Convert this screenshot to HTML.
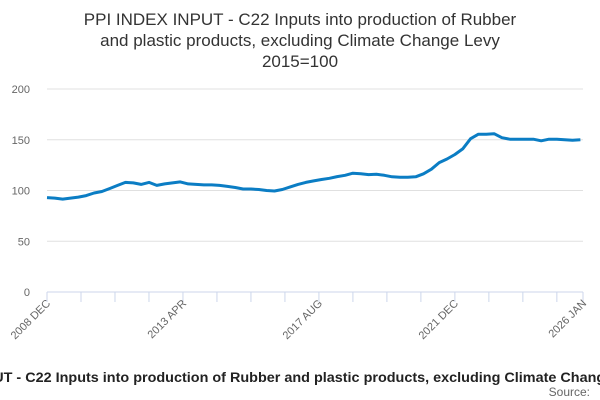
<!DOCTYPE html>
<html><head><meta charset="utf-8"><style>
html,body{margin:0;padding:0;background:#fff;width:600px;height:400px;overflow:hidden}
svg{display:block;font-family:"Liberation Sans","DejaVu Sans",sans-serif}
</style></head><body>
<svg id="chart" width="600" height="400" viewBox="0 0 600 400">
<g font-size="17" fill="#333" text-anchor="middle">
<text x="300" y="25">PPI INDEX INPUT - C22 Inputs into production of Rubber</text>
<text x="300" y="46">and plastic products, excluding Climate Change Levy</text>
<text x="300" y="67">2015=100</text>
</g>
<g id="grid"></g>
<g id="yaxis"></g>
<g id="xaxis"></g>
<path id="line" fill="none" stroke="#0b7dc4" stroke-width="3" stroke-linejoin="round"/>
<text x="-106" y="382" font-size="13.5" font-weight="bold" fill="#222" textLength="756" lengthAdjust="spacingAndGlyphs">PPI INDEX INPUT - C22 Inputs into production of Rubber and plastic products, excluding Climate Change Levy</text>
<text x="590" y="396" font-size="12" fill="#666" text-anchor="end">Source:</text>
</svg>
<script>
const yTicks = [0, 50, 100, 150, 200];
const xLabels = ["2008 DEC", "2013 APR", "2017 AUG", "2021 DEC", "2026 JAN"];
const xLabelMonths = [0, 52, 104, 156, 205];
const totalMonths = 205;
const values = [93,92.5,91.5,92.5,93.5,95,97.5,99,102,105,108,107.5,106,108,105,106.5,107.5,108.5,106.5,106,105.5,105.5,105,104,103,101.5,101.5,101,100,99.5,101,103.5,106,108,109.5,110.8,112,113.7,115,117,116.5,115.7,116,115,113.5,113,113,113.5,116.5,121,127.5,131,135.5,141,151,155.5,155.5,156,152,150.5,150.5,150.5,150.5,149,150.5,150.5,150,149.5,150];
const monthStep = 3;

const L=47,R=583,T=89,B=292;
const xs=m=>L+(R-L)*m/totalMonths;
const ys=v=>B-(B-T)*v/200;
const NS="http://www.w3.org/2000/svg";
const grid=document.getElementById('grid'),ya=document.getElementById('yaxis'),xa=document.getElementById('xaxis');
yTicks.forEach(t=>{
  if(t>0){const l=document.createElementNS(NS,'line');
  
  
  l.setAttribute('x1',L);l.setAttribute('x2',R);l.setAttribute('y1',ys(t));l.setAttribute('y2',ys(t));
  l.setAttribute('stroke','#e0e0e0');l.setAttribute('stroke-width','1');grid.appendChild(l);}
  const tx=document.createElementNS(NS,'text');
  
  
  tx.setAttribute('x',30);tx.setAttribute('y',ys(t)+4);tx.setAttribute('text-anchor','end');
  tx.setAttribute('font-size','11');tx.setAttribute('fill','#666');tx.textContent=t;ya.appendChild(tx);
});
const ax=document.createElementNS(NS,'line');


ax.setAttribute('x1',L);ax.setAttribute('x2',R);ax.setAttribute('y1',B);ax.setAttribute('y2',B);
ax.setAttribute('stroke','#ccd6eb');xa.appendChild(ax);
for(let m=0;m<=totalMonths;m+=13){
  const tk=document.createElementNS(NS,'line');
  
  
  tk.setAttribute('x1',xs(m));tk.setAttribute('x2',xs(m));tk.setAttribute('y1',B);tk.setAttribute('y2',B+10);
  tk.setAttribute('stroke','#ccd6eb');xa.appendChild(tk);
}
const tkEnd=document.createElementNS(NS,'line');


tkEnd.setAttribute('x1',xs(totalMonths));tkEnd.setAttribute('x2',xs(totalMonths));tkEnd.setAttribute('y1',B);tkEnd.setAttribute('y2',B+10);
tkEnd.setAttribute('stroke','#ccd6eb');xa.appendChild(tkEnd);
xLabels.forEach((lab,i)=>{
  const x=xs(xLabelMonths[i]);
  const tx=document.createElementNS(NS,'text');
  
  
  tx.setAttribute('x',x+4);tx.setAttribute('y',B+12);tx.setAttribute('text-anchor','end');
  tx.setAttribute('font-size','11');tx.setAttribute('fill','#666');
  tx.setAttribute('transform',`rotate(-45 ${x+4} ${B+12})`);tx.textContent=lab;xa.appendChild(tx);
});
let d='';
values.forEach((v,i)=>{const m=Math.min(i*monthStep,totalMonths);d+=(i?'L':'M')+xs(m).toFixed(1)+' '+ys(v).toFixed(1);});
document.getElementById('line').setAttribute('d',d);
</script>
</body></html>
